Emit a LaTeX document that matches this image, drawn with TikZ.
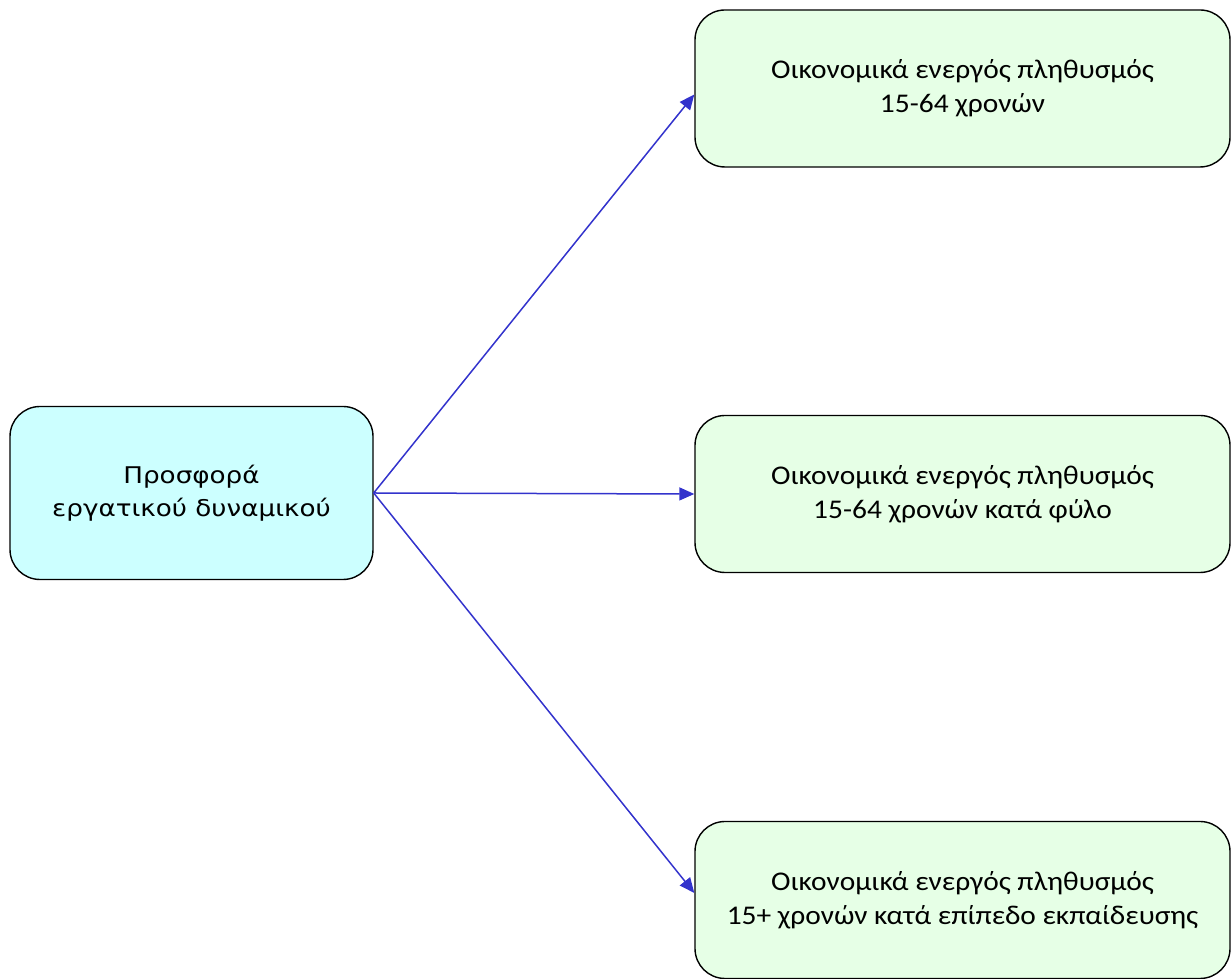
\documentclass[tikz,border=0pt]{standalone}
\usepackage{fontspec}
\setmainfont[FakeStretch=1.09]{Carlito}
\newfontfamily\supplyfont[FakeStretch=1.14]{DejaVu Sans}
\usetikzlibrary{positioning,arrows.meta}
\definecolor{supplycyan}{RGB}{204,255,255}
\definecolor{groupgreen}{RGB}{230,255,230}
\definecolor{linkblue}{RGB}{51,51,204}

\begin{document}
\begin{tikzpicture}[x=1pt, y=1pt,
  box/.style={rectangle, rounded corners=30pt, draw, line width=1.4pt, align=center, inner sep=0pt},
  supply/.style={box, fill=supplycyan, minimum width=363pt, minimum height=173pt, font=\supplyfont\fontsize{23}{33}\selectfont},
  group/.style={box, fill=groupgreen, minimum width=535pt, minimum height=157pt, font=\fontsize{27}{34}\selectfont},
  arrow/.style={-{Triangle[length=15pt, width=13pt]}, color=linkblue, line width=1.5pt}]
  \useasboundingbox (0,0) rectangle (1231,979);
  \node[supply] (offer) at (191.5,486) {Προσφορά\\εργατικού δυναμικού};
  \node[group] (age) at (962.5,890.5) {Οικονομικά ενεργός πληθυσμός\\15-64 χρονών};
  \node[group] (sex) at (962.5,485) {Οικονομικά ενεργός πληθυσμός\\15-64 χρονών κατά φύλο};
  \node[group] (edu) at (962.5,79) {Οικονομικά ενεργός πληθυσμός\\15+ χρονών κατά επίπεδο εκπαίδευσης};
  \draw[arrow] (offer.east) -- ([yshift=-6pt]age.west);
  \draw[arrow] (offer.east) -- (sex.west);
  \draw[arrow] (offer.east) -- ([yshift=7pt]edu.west);
\end{tikzpicture}
\end{document}
